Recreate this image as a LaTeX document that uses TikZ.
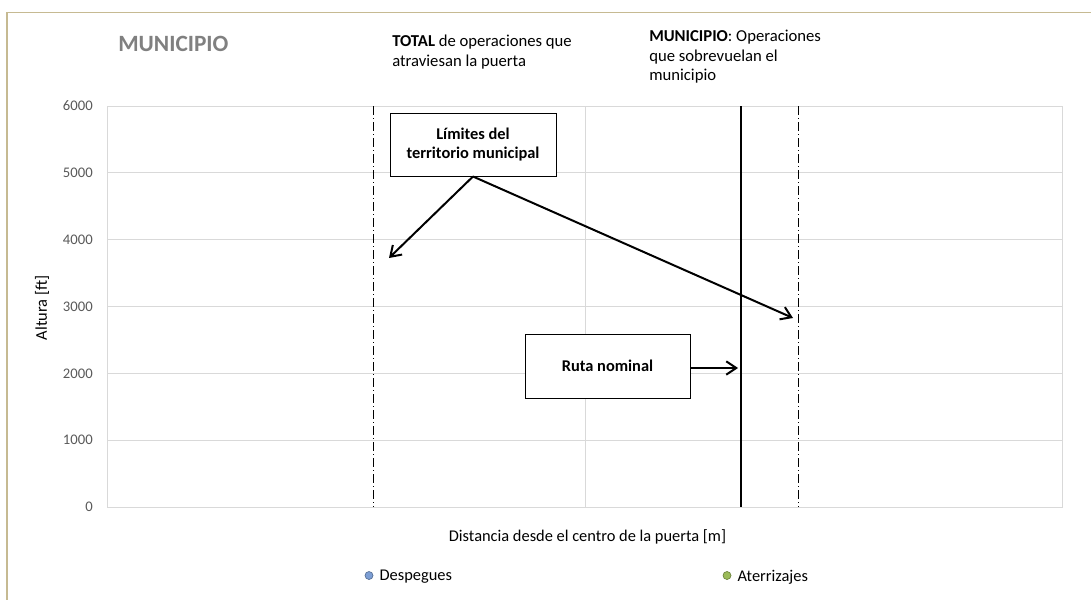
\documentclass[tikz,border=0pt]{standalone}
\usepackage{fontspec}
\setmainfont{Carlito}
\usetikzlibrary{arrows.meta,positioning}

\definecolor{marco}{RGB}{198,186,146}
\definecolor{rejilla}{RGB}{217,217,217}
\definecolor{textoeje}{RGB}{89,89,89}
\definecolor{titulo}{RGB}{128,128,128}
\definecolor{despegue}{RGB}{124,158,212}
\definecolor{aterrizaje}{RGB}{155,187,89}

\tikzset{
  caja/.style={draw=black, line width=0.75pt, fill=white, align=center,
    font=\bfseries\fontsize{12.3}{14.5}\selectfont, inner sep=0pt},
  flecha/.style={line width=1.5pt, -{Straight Barb[length=7.5pt,width=10pt,line width=1.5pt]}},
  limite/.style={line width=0.75pt, dash pattern=on 7pt off 2pt on 1pt off 2pt},
  nota/.style={anchor=north west, align=left, inner sep=0pt, font=\fontsize{12.5}{14.5}\selectfont},
  marca/.style={circle, inner sep=0pt, minimum size=6pt, line width=0.5pt},
  leyenda/.style={anchor=west, font=\fontsize{12.3}{14}\selectfont, inner sep=1pt}
}

\begin{document}
\begin{tikzpicture}[x=0.75pt,y=-0.75pt]
	\useasboundingbox (0,0) rectangle (1091,600);

	% marco del grafico
	\draw[marco, line width=0.9pt] (1091,12.5) -- (7,12.5) -- (7,600);

	% area de trazado y rejilla
	\foreach \k in {1,...,5}
		\draw[rejilla, line width=0.75pt] (107,507-66.83*\k) -- (1062,507-66.83*\k);
	\draw[rejilla, line width=0.75pt] (585,106) -- (585,507);
	\draw[rejilla, line width=0.75pt] (107,106) rectangle (1062,507);
	\foreach \k in {0,...,6} {
		\pgfmathtruncatemacro\valor{1000*\k}
		\node[anchor=east, textoeje, font=\fontsize{11}{12}\selectfont, inner sep=0pt] (tick\k) at (93,507-66.83*\k) {\valor};
	}

	% rotulos de los ejes
	\node[rotate=90, font=\fontsize{12.3}{14}\selectfont] (ejeY) at (42,308) {Altura [ft]};
	\node[font=\fontsize{12.3}{14}\selectfont] (ejeX) at (587.5,537) {Distancia desde el centro de la puerta [m]};

	% titulo y notas
	\node[anchor=west, titulo, font=\bfseries\fontsize{17.5}{20}\selectfont, inner sep=0pt] (titulo) at (118,44) {MUNICIPIO};
	\node[nota] (total) at (392,35) {\textbf{TOTAL} de operaciones que\\atraviesan la puerta};
	\node[nota] (municipio) at (649,30) {\textbf{MUNICIPIO}: Operaciones\\que sobrevuelan el\\municipio};

	% limites del municipio y ruta
	\draw[limite] (373,106) -- (373,507);
	\draw[limite] (798,106) -- (798,507);
	\draw[line width=1.5pt] (741,106) -- (741,507);

	\node[caja, minimum width=124.5pt, minimum height=47.25pt] (limites) at (473,144.5) {L\'imites del\\territorio municipal};
	\node[caja, minimum width=123.75pt, minimum height=48pt] (ruta) at (607.5,366) {Ruta nominal};

	\coordinate (finIzq) at (389,258);
	\coordinate (finDer) at (793,318);
	\coordinate (finRuta) at (738,368);

	\draw[flecha] (limites.south) -- (finIzq);
	\draw[flecha] (limites.south) -- (finDer);
	\draw[flecha] (ruta.east |- finRuta) -- (finRuta);

	% leyenda
	\node[marca, fill=despegue, draw=despegue!70!black] (mDesp) at (369,575.5) {};
	\node[leyenda] (tDesp) at (378,577) {Despegues};
	\node[marca, fill=aterrizaje, draw=aterrizaje!70!black] (mAter) at (727,575.5) {};
	\node[leyenda] (tAter) at (736,577) {Aterrizajes};
\end{tikzpicture}
\end{document}
